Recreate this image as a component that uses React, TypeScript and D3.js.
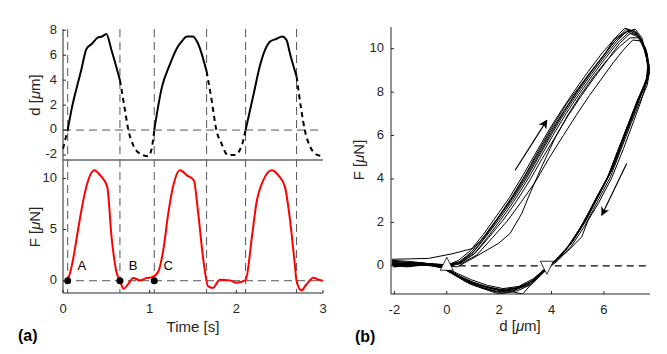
import * as d3 from 'd3';

// ---- panel (a): time traces ----
const timeD = [0, 0.054, 0.1, 0.158, 0.21, 0.27, 0.33, 0.4, 0.45, 0.5, 0.56, 0.657, 0.715, 0.75, 0.81, 0.89, 0.98, 1.02, 1.053, 1.14, 1.23, 1.31, 1.37, 1.43, 1.5, 1.56, 1.657, 1.715, 1.77, 1.83, 1.9, 1.98, 2.06, 2.107, 2.2, 2.27, 2.39, 2.46, 2.53, 2.58, 2.62, 2.695, 2.75, 2.79, 2.85, 2.91, 3.0];
const dispD = [-1.5, 0, 1.7, 3.4, 4.8, 6.5, 6.9, 7.4, 7.5, 7.7, 6.4, 4.0, 1.6, 0.15, -1.2, -1.9, -2.1, -1.6, 0, 3.4, 5.2, 6.5, 7.1, 7.5, 7.5, 6.9, 4.7, 2.4, 0, -1.1, -2.0, -2.0, -1.3, 0, 2.9, 5.1, 7.1, 7.3, 7.5, 7.2, 6.1, 4.3, 1.6, 0, -1.3, -1.9, -2.1];

const timeF = [0.054, 0.1, 0.18, 0.235, 0.29, 0.36, 0.43, 0.51, 0.56, 0.62, 0.657, 0.7, 0.75, 0.81, 0.89, 0.965, 1.03, 1.1, 1.157, 1.215, 1.27, 1.35, 1.43, 1.51, 1.56, 1.62, 1.675, 1.73, 1.81, 1.93, 2.0, 2.107, 2.18, 2.23, 2.31, 2.41, 2.485, 2.56, 2.62, 2.67, 2.695, 2.75, 2.81, 2.89, 2.95, 3.0];
const forceF = [0, 1.4, 5.3, 7.9, 9.8, 10.8, 10.3, 9.2, 4.3, 0.75, 0, -0.78, -0.35, 0.26, 0.03, 0.26, 0.35, 0.9, 3.0, 6.6, 9.2, 10.8, 10.3, 9.8, 6.6, 2.0, -0.55, -0.7, 0.1, 0.03, -0.2, 0.05, 4.3, 7.5, 9.8, 10.8, 10.3, 9.2, 5.9, 2.0, 0, -0.94, -0.35, 0.3, 0.1, 0];

const contactStart = [0.054, 1.053, 2.107];
const contactEnd = [0.657, 1.657, 2.695];

const markerTimes = [0.054, 0.657, 1.053];
const markerNames = ['A', 'B', 'C'];
const markerLabelT = [0.216, 0.81, 1.215];

const timeTicks = [0, 1, 2, 3];
const dTicks = [-2, 0, 2, 4, 6, 8];
const fTicksA = [0, 5, 10];

// ---- panel (b): force vs displacement loops ----
const hystLoops: [number, number][][] = [
    [[-2.1,0.15],[-1.3,0.12],[-0.7,0.05],[0,0],[0.5,0.15],[1.0,0.6],[1.5,1.35],[2.0,2.15],[2.5,3.0],[3.0,3.95],[3.5,5.0],[4.0,6.05],[4.5,7.05],[5.0,7.95],[5.5,8.8],[6.0,9.6],[6.5,10.35],[6.9,10.85],[7.3,10.65],[7.55,10.05],[7.7,9.2],[7.62,8.5],[7.3,7.7],[7.0,6.75],[6.6,5.5],[6.2,4.2],[5.7,3.1],[5.2,1.9],[4.7,0.95],[4.2,0.3],[3.7,-0.2],[3.2,-0.75],[2.6,-1.05],[2.0,-1.15],[1.4,-0.95],[0.8,-0.7],[0.3,-0.35],[-0.2,-0.05],[-0.8,0.1],[-1.5,0.0],[-2.05,0.02]],
    [[-2.05,0.05],[-1.2,0.1],[-0.6,0.1],[0,0.02],[0.45,0.25],[0.9,0.7],[1.4,1.45],[1.9,2.3],[2.4,3.15],[2.9,4.15],[3.4,5.2],[3.9,6.25],[4.4,7.2],[4.9,8.1],[5.4,8.95],[5.9,9.75],[6.4,10.45],[6.8,10.95],[7.15,10.8],[7.45,10.3],[7.65,9.5],[7.68,8.8],[7.45,8.0],[7.1,6.9],[6.7,5.7],[6.3,4.4],[5.8,3.25],[5.3,2.05],[4.8,1.1],[4.3,0.4],[3.8,-0.15],[3.3,-0.7],[2.7,-1.0],[2.1,-1.1],[1.5,-0.95],[0.9,-0.75],[0.35,-0.4],[-0.1,-0.1],[-0.7,0.05],[-1.4,0.05],[-2.0,-0.05]],
    [[-2.1,0.25],[-1.4,0.2],[-0.7,0.1],[0,0.05],[0.55,0.1],[1.15,0.5],[1.75,1.3],[2.3,2.05],[2.85,2.95],[3.4,3.9],[3.9,4.95],[4.45,6.0],[4.95,6.95],[5.45,7.85],[5.9,8.6],[6.35,9.35],[6.75,9.95],[7.1,10.4],[7.45,10.35],[7.65,9.8],[7.75,9.0],[7.65,8.3],[7.35,7.5],[7.05,6.6],[6.65,5.35],[6.25,4.1],[5.75,2.95],[5.25,1.8],[4.75,0.9],[4.25,0.25],[3.75,-0.25],[3.25,-0.85],[2.7,-1.15],[2.1,-1.25],[1.5,-1.05],[0.9,-0.8],[0.35,-0.45],[-0.15,-0.1],[-0.8,0.05],[-1.5,-0.05],[-2.1,0.0]],
    [[-2.0,0.2],[-1.0,0.1],[0,0],[0.4,-0.05],[1.0,0.35],[1.97,1.03],[2.42,1.49],[2.86,2.4],[3.2,3.4],[3.6,4.5],[4.1,5.8],[4.6,6.9],[5.1,7.85],[5.6,8.7],[6.1,9.45],[6.6,10.1],[7.0,10.5],[7.35,10.5],[7.6,9.95],[7.72,9.1],[7.6,8.4],[7.3,7.65],[6.95,6.6],[6.55,5.35],[6.15,4.1],[5.65,3.0],[5.15,1.85],[4.65,0.9],[4.15,0.2],[3.65,-0.3],[3.15,-0.85],[2.55,-1.1],[1.95,-1.2],[1.35,-1.0],[0.75,-0.75],[0.25,-0.4],[-0.25,-0.05],[-0.9,0.1],[-1.6,0.1],[-2.1,0.05]],
    [[-2.1,0.3],[-1.4,0.32],[-0.7,0.34],[0.2,0.55],[1.0,0.8],[1.4,1.3],[2.0,2.3],[2.5,3.2],[3.0,4.2],[3.5,5.3],[4.0,6.35],[4.58,7.47],[5.0,8.15],[5.5,8.95],[6.0,9.7],[6.4,10.45],[6.8,10.75],[7.15,10.85],[7.45,10.4],[7.65,9.6],[7.7,8.9],[7.5,8.1],[7.2,7.3],[6.9,6.4],[6.5,5.2],[6.1,3.95],[5.6,2.85],[5.1,1.75],[4.6,0.85],[4.1,0.2],[3.6,-0.3],[3.1,-0.9],[2.5,-1.15],[1.9,-1.2],[1.3,-1.0],[0.7,-0.7],[0.2,-0.35],[-0.3,0.0],[-1.0,0.15],[-1.7,0.1],[-2.1,0.1]],
    [[-2.05,0.1],[-1.3,0.05],[-0.6,0.0],[0,-0.05],[0.5,0.1],[1.05,0.55],[1.55,1.3],[2.05,2.1],[2.55,2.95],[3.05,3.9],[3.55,4.95],[4.05,6.0],[4.55,7.0],[5.05,7.9],[5.55,8.75],[6.05,9.55],[6.55,10.3],[6.95,10.75],[7.35,10.6],[7.6,10.0],[7.76,9.0],[7.45,7.7],[7.15,6.7],[6.75,5.4],[6.3,4.05],[5.8,2.9],[5.4,2.1],[5.15,1.33],[4.6,0.65],[4.0,0.1],[3.55,-0.4],[2.9,-1.3],[2.3,-1.15],[1.7,-1.05],[1.1,-0.85],[0.5,-0.5],[0.0,-0.15],[-0.6,0.05],[-1.3,0.0],[-2.05,-0.05]],
    [[-2.1,0.2],[-1.3,0.15],[-0.7,0.1],[0,0.0],[0.5,0.2],[0.95,0.65],[1.45,1.4],[1.95,2.2],[2.45,3.05],[2.95,4.05],[3.45,5.1],[3.95,6.15],[4.45,7.1],[4.95,8.0],[5.45,8.85],[5.95,9.65],[6.45,10.4],[6.85,10.9],[7.25,10.75],[7.5,10.2],[7.68,9.3],[7.62,8.6],[7.35,7.8],[7.05,6.85],[6.65,5.6],[6.25,4.3],[5.75,3.2],[5.25,2.0],[4.75,1.05],[4.25,0.35],[3.75,-0.15],[3.25,-0.7],[2.5,-1.2],[2.0,-1.3],[1.5,-1.1],[0.9,-0.85],[0.35,-0.45],[-0.15,-0.1],[-0.75,0.05],[-1.45,0.05],[-2.0,0.0]],
    [[-2.0,0.1],[-1.2,0.08],[-0.5,0.05],[0.05,0.0],[0.6,0.2],[1.1,0.6],[1.6,1.3],[2.15,2.1],[2.65,2.95],[3.15,3.9],[3.65,4.95],[4.15,5.95],[4.65,6.95],[5.15,7.85],[5.65,8.7],[6.15,9.5],[6.6,10.25],[7.0,10.7],[7.3,10.55],[7.55,9.95],[7.72,9.1],[7.68,8.6],[7.4,7.85],[7.1,6.95],[6.7,5.7],[6.3,4.45],[5.8,3.3],[5.3,2.15],[4.8,1.15],[4.3,0.4],[3.8,-0.1],[3.3,-0.6],[2.75,-0.95],[2.15,-1.05],[1.55,-0.9],[0.95,-0.65],[0.4,-0.35],[-0.1,-0.05],[-0.7,0.08],[-1.4,0.1],[-2.05,0.1]],
    [[-2.1,0.05],[-1.5,0.0],[-0.8,0.05],[0,0.03],[0.5,0.18],[1.0,0.62],[1.5,1.4],[2.0,2.25],[2.5,3.1],[3.0,4.05],[3.5,5.1],[4.0,6.15],[4.5,7.15],[5.0,8.05],[5.5,8.9],[6.0,9.7],[6.45,10.4],[6.9,10.8],[7.2,10.9],[7.45,10.5],[7.62,9.7],[7.7,8.85],[7.5,8.1],[7.2,7.2],[6.8,5.95],[6.4,4.65],[5.9,3.45],[5.4,2.3],[4.9,1.3],[4.4,0.5],[3.9,-0.05],[3.4,-0.6],[2.8,-1.0],[2.2,-1.15],[1.6,-1.0],[1.0,-0.75],[0.45,-0.45],[-0.05,-0.1],[-0.6,0.05],[-1.3,0.1],[-2.0,0.0]],
];

const loadArrow: [number, number][] = [[2.61, 4.4], [3.82, 6.7]];
const unloadArrow: [number, number][] = [[6.87, 4.71], [5.92, 2.33]];
const contactPoints: [number, number][] = [[0, 0], [3.82, 0]];

const dTicksB = [-2, 0, 2, 4, 6];
const fTicksB = [0, 2, 4, 6, 8, 10];

const FONT = "'Liberation Sans', Arial, sans-serif";
const AX = '#262626';

function inContact(t: number) {
    return contactStart.some((s, i) => t >= s && t <= contactEnd[i]);
}

export default function App() {
    const xT = d3.scaleLinear().domain([0, 3]).range([63, 323]);
    const yD = d3.scaleLinear().domain([-2.4, 8.1]).range([160, 29]);
    const yF = d3.scaleLinear().domain([-1.2, 11.8]).range([293, 160]);

    const xB = d3.scaleLinear().domain([-2.13, 7.76]).range([391, 650]);
    const yB = d3.scaleLinear().domain([-1.3, 11]).range([294, 27]);

    const lineD = d3
        .line<[number, number]>()
        .x((p) => xT(p[0]))
        .y((p) => yD(p[1]))
        .curve(d3.curveMonotoneX);
    const lineF = d3
        .line<number>()
        .x((_, i) => xT(timeF[i]))
        .y((v) => yF(v))
        .curve(d3.curveMonotoneX);
    const lineB = d3
        .line<[number, number]>()
        .x((p) => xB(p[0]))
        .y((p) => yB(p[1]));

    // split displacement trace into contact (solid) and free (dashed) pieces
    const segs: { solid: boolean; pts: [number, number][] }[] = [];
    const pts: [number, number][] = timeD.map((t, i) => [t, dispD[i]]);
    let cur: { solid: boolean; pts: [number, number][] } | null = null;
    for (let i = 1; i < pts.length; i++) {
        const solid = inContact((pts[i - 1][0] + pts[i][0]) / 2);
        if (!cur || cur.solid !== solid) {
            cur = { solid, pts: [pts[i - 1]] };
            segs.push(cur);
        }
        cur.pts.push(pts[i]);
    }

    const vLines = [...contactStart, ...contactEnd];

    return (
        <svg
            width={667}
            height={354}
            style={{ position: 'absolute', left: 0, top: 0, background: '#fff' }}
            fontFamily={FONT}
        >
            <defs>
                <marker id="ah" viewBox="0 0 10 10" refX="9" refY="5" markerWidth="9" markerHeight="9" orient="auto" markerUnits="userSpaceOnUse">
                    <path d="M0,0 L10,5 L0,10 L3,5 Z" fill="#000" />
                </marker>
                <clipPath id="clipB">
                    <rect x={391} y={27} width={259} height={267} />
                </clipPath>
            </defs>

            {/* ---------- panel (a) ---------- */}
            {vLines.map((t, i) => (
                <line key={i} x1={xT(t)} x2={xT(t)} y1={29} y2={293} stroke="#555" strokeWidth={1} strokeDasharray="8,5" />
            ))}
            <line x1={63} x2={323} y1={yD(0)} y2={yD(0)} stroke="#555" strokeDasharray="8,5" />
            <line x1={63} x2={323} y1={yF(0)} y2={yF(0)} stroke="#555" strokeDasharray="8,5" />

            {segs.map((s, i) => (
                <path
                    key={i}
                    d={lineD(s.pts) || ''}
                    fill="none"
                    stroke="#000"
                    strokeWidth={2}
                    strokeDasharray={s.solid ? undefined : '5,4'}
                />
            ))}
            <path d={lineF(forceF) || ''} fill="none" stroke="#f00" strokeWidth={2} />

            {markerTimes.map((t, i) => (
                <g key={i}>
                    <circle cx={xT(t)} cy={yF(0)} r={3.5} fill="#000" />
                    <text x={xT(markerLabelT[i])} y={yF(1.37)} fontSize={13} textAnchor="middle" dominantBaseline="middle" fill="#000">
                        {markerNames[i]}
                    </text>
                </g>
            ))}

            {/* axes (a) */}
            <line x1={63} x2={63} y1={29} y2={293} stroke={AX} />
            <line x1={63} x2={323} y1={160} y2={160} stroke="#666" strokeWidth={1.5} />
            <line x1={63} x2={323} y1={293} y2={293} stroke={AX} />
            {dTicks.map((v) => (
                <g key={'d' + v}>
                    <line x1={63} x2={66} y1={yD(v)} y2={yD(v)} stroke={AX} />
                    <text x={57} y={yD(v)} fontSize={13} textAnchor="end" dominantBaseline="middle" fill={AX}>
                        {v}
                    </text>
                </g>
            ))}
            {fTicksA.map((v) => (
                <g key={'f' + v}>
                    <line x1={63} x2={66} y1={yF(v)} y2={yF(v)} stroke={AX} />
                    <text x={57} y={yF(v)} fontSize={13} textAnchor="end" dominantBaseline="middle" fill={AX}>
                        {v}
                    </text>
                </g>
            ))}
            {timeTicks.map((v) => (
                <g key={'t' + v}>
                    <line x1={xT(v)} x2={xT(v)} y1={293} y2={290} stroke={AX} />
                    <text x={xT(v)} y={313} fontSize={13} textAnchor="middle" fill={AX}>
                        {v}
                    </text>
                </g>
            ))}
            <text x={193} y={332} fontSize={15} textAnchor="middle" fill={AX}>
                Time [s]
            </text>
            <text transform="translate(40,95) rotate(-90)" fontSize={15} textAnchor="middle" fill={AX}>
                d [<tspan fontStyle="italic">μ</tspan>m]
            </text>
            <text transform="translate(40,227) rotate(-90)" fontSize={15} textAnchor="middle" fill={AX}>
                F [<tspan fontStyle="italic">μ</tspan>N]
            </text>
            <text x={18} y={341} fontSize={16} fontWeight="bold" fill="#000">
                (a)
            </text>

            {/* ---------- panel (b) ---------- */}
            <line x1={xB(0)} x2={650} y1={yB(0)} y2={yB(0)} stroke="#000" strokeWidth={1.2} strokeDasharray="7,5" />
            <g clipPath="url(#clipB)">
                {hystLoops.map((loop, i) => (
                    <path key={i} d={lineB(loop) || ''} fill="none" stroke="#000" strokeWidth={1} />
                ))}
            </g>
            <path
                d={`M${xB(contactPoints[0][0]) - 6.5},${yB(0) + 4.5} L${xB(contactPoints[0][0])},${yB(0) - 8.5} L${xB(contactPoints[0][0]) + 6.5},${yB(0) + 4.5} Z`}
                fill="#fff"
                stroke="#000"
                strokeWidth={0.8}
            />
            <path
                d={`M${xB(contactPoints[1][0]) - 6.5},${yB(0) - 4.5} L${xB(contactPoints[1][0])},${yB(0) + 8.5} L${xB(contactPoints[1][0]) + 6.5},${yB(0) - 4.5} Z`}
                fill="#fff"
                stroke="#000"
                strokeWidth={0.8}
            />
            <line
                x1={xB(loadArrow[0][0])}
                y1={yB(loadArrow[0][1])}
                x2={xB(loadArrow[1][0])}
                y2={yB(loadArrow[1][1])}
                stroke="#000"
                strokeWidth={1.2}
                markerEnd="url(#ah)"
            />
            <line
                x1={xB(unloadArrow[0][0])}
                y1={yB(unloadArrow[0][1])}
                x2={xB(unloadArrow[1][0])}
                y2={yB(unloadArrow[1][1])}
                stroke="#000"
                strokeWidth={1.2}
                markerEnd="url(#ah)"
            />

            <line x1={391} x2={391} y1={27} y2={294} stroke={AX} />
            <line x1={391} x2={650} y1={294} y2={294} stroke={AX} />
            {fTicksB.map((v) => (
                <g key={'fb' + v}>
                    <line x1={391} x2={394} y1={yB(v)} y2={yB(v)} stroke={AX} />
                    <text x={384} y={yB(v)} fontSize={13} textAnchor="end" dominantBaseline="middle" fill={AX}>
                        {v}
                    </text>
                </g>
            ))}
            {dTicksB.map((v) => (
                <g key={'db' + v}>
                    <line x1={xB(v)} x2={xB(v)} y1={294} y2={291} stroke={AX} />
                    <text x={xB(v)} y={314} fontSize={13} textAnchor="middle" fill={AX}>
                        {v}
                    </text>
                </g>
            ))}
            <text x={520} y={331} fontSize={15} textAnchor="middle" fill={AX}>
                d [<tspan fontStyle="italic">μ</tspan>m]
            </text>
            <text transform="translate(364,160) rotate(-90)" fontSize={15} textAnchor="middle" fill={AX}>
                F [<tspan fontStyle="italic">μ</tspan>N]
            </text>
            <text x={355} y={342} fontSize={16} fontWeight="bold" fill="#000">
                (b)
            </text>
        </svg>
    );
}
